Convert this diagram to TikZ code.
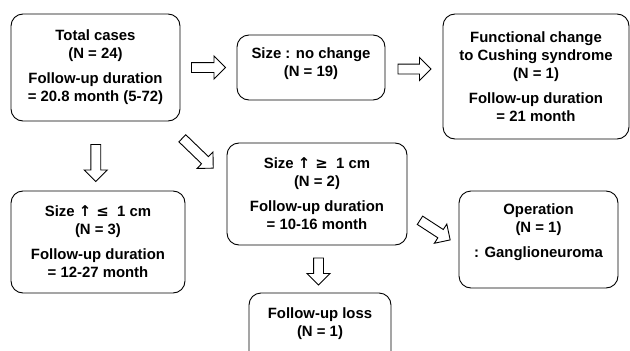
\documentclass[tikz,border=0pt]{standalone}
\usepackage{fontspec}
\setmainfont{Liberation Sans}
\newfontfamily\symfont{DejaVu Sans}
\usepackage{tikz}
\usetikzlibrary{calc}
\usetikzlibrary{shapes.arrows}
\tikzset{
    block/.style = {draw, rectangle, rounded corners=12pt,
        line width=0.9pt, align=center, inner sep=0pt,
        font=\fontsize{14.9pt}{18pt}\selectfont\bfseries},
    fatarrow/.style = {draw, single arrow, line width=0.9pt,
        single arrow head extend=6.5pt, inner xsep=0pt,
        inner ysep=4.5pt}
}
\newcommand{\upsym}[1]{{\symfont\bfseries ↑\ #1}}

\begin{document}
\begin{tikzpicture}[auto, node distance=220pt]
    \useasboundingbox (0,0) rectangle (630pt,-351pt);
    \clip (0,0) rectangle (630pt,-351pt);
    \node [block, minimum width=169pt, minimum height=107pt] (total) at (95.5pt,-67.5pt) {Total cases\\(N = 24)\\[7pt]Follow-up duration\\= 20.8 month (5-72)};
    \node [block, right of=total, xshift=-4.5pt, minimum width=148pt, minimum height=65pt] (nochange) {Size : no change\\(N = 19)\\[-8pt]\phantom{x}};
    \node [block, right of=nochange, xshift=5pt, yshift=-9pt, minimum width=186pt, minimum height=125pt] (cushing) {Functional change\\to Cushing syndrome\\(N = 1)\\[7pt]Follow-up duration\\= 21 month};
    \node [block, below of=nochange, node distance=126.5pt, xshift=6pt, minimum width=180pt, minimum height=102pt] (large) {Size \upsym{≥}\ \ 1 cm\\(N = 2)\\[7pt]Follow-up duration\\= 10-16 month};
    \node [block, right of=large, xshift=1.5pt, yshift=-45.5pt, minimum width=159pt, minimum height=97pt] (operation) {Operation\\(N = 1)\\[7pt]: Ganglioneuroma\\\phantom{x}};
    \node [block, below of=large, node distance=150pt, xshift=3pt, minimum width=142pt, minimum height=102pt] (loss) {Follow-up loss\\(N = 1)\\[7pt]\phantom{F}\\\phantom{F}};
    \node [block, below of=total, node distance=174.5pt, xshift=2.5pt, minimum width=174pt, minimum height=102pt] (small) {Size \upsym{≤}\ \ 1 cm\\(N = 3)\\[7pt]Follow-up duration\\= 12-27 month};
    \node [fatarrow, minimum height=34pt] (toNochange) at ($(total.east)!0.5!(nochange.west)+(-2.5pt,0)$) {};
    \node [fatarrow, minimum height=33pt] (toCushing) at ($(nochange.east)!0.5!(cushing.west)+(-2pt,3pt)$) {};
    \node [fatarrow, minimum height=37pt, rotate=-90] (toSmall) at ($(total.south)!0.5!(small.north)+(-1pt,-4.5pt)$) {};
    \node [fatarrow, minimum height=43pt, rotate=-44] (toLarge) at ($(total.south east)!0.5!(large.north west)+(-7.5pt,-19.5pt)$) {};
    \node [fatarrow, minimum height=36pt, rotate=-33] (toOperation) at ($(large.east)!0.5!(operation.west)+(0,-12pt)$) {};
    \node [fatarrow, minimum height=27pt, rotate=-90] (toLoss) at ($(large.south)!0.5!(loss.north)$) {};
\end{tikzpicture}
\end{document}
